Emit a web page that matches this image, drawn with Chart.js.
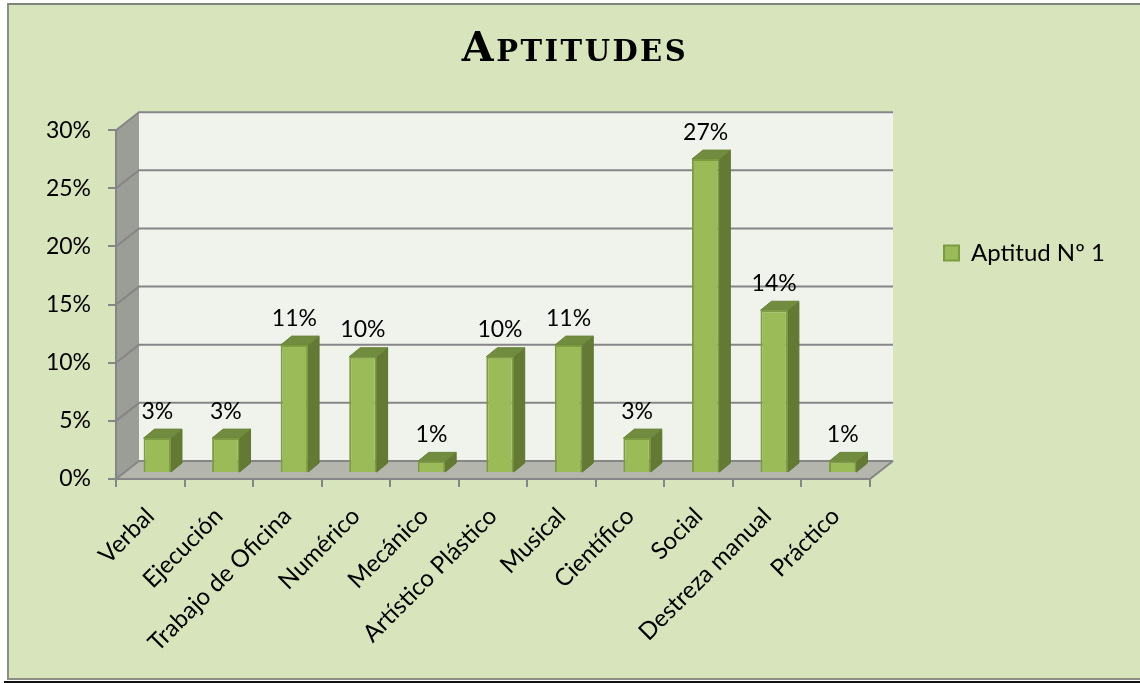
<!DOCTYPE html>
<html>
<head>
<meta charset="utf-8">
<title>Aptitudes</title>
<script src="https://cdn.jsdelivr.net/npm/chart.js@4/dist/chart.umd.min.js"></script>
<style>
  html, body { margin: 0; padding: 0; background: #fff; overflow: hidden; }
  #frame { position: absolute; left: 7px; top: 3px; width: 1133px; height: 677px; box-sizing: border-box;
           background: #d8e4bc; border-left: 2px solid #8c9084; border-top: 2px solid #7f8378; border-bottom: 2px solid #8c9084; }
  #rule { position: absolute; left: 4px; top: 681px; width: 1136px; height: 2px; background: #111; }
  canvas { position: absolute; left: 0; top: 0; }
</style>
</head>
<body>
<div id="frame"></div>
<div id="rule"></div>
<canvas id="chart" width="1140" height="683"></canvas>
<script>
const categorias = ['Verbal', 'Ejecución', 'Trabajo de Oficina', 'Numérico', 'Mecánico', 'Artístico Plástico', 'Musical', 'Científico', 'Social', 'Destreza manual', 'Práctico'];
const aptitud1 = [3, 3, 11, 10, 1, 10, 11, 3, 27, 14, 1];
const serieNombre = 'Aptitud Nº 1';
const tituloTexto = 'Aptitudes';

const fuente = 'Lato, "Open Sans", sans-serif';

// profundidad de las paredes y de las barras (3D falso)
const paredX = 23, paredY = -18;
const barraX = 7, barraY = -6;
const fondoX = 11, fondoY = -9;

const efecto3d = {
    id: 'efecto3d',
    afterLayout(chart) {
        // leyenda y titulo en su sitio
        const l = chart.legend;
        const w = l.right - l.left, h = l.bottom - l.top;
        l.left = 934; l.right = 934 + w;
        l.top = 253 - h / 2; l.bottom = l.top + h;
        const t = chart.titleBlock;
        const tw = t.right - t.left;
        t.left = 575 - tw / 2; t.right = 575 + tw / 2;
        // el titulo va mas espaciado que el resto del texto
        const dibujaTitulo = t.draw;
        t.draw = function() {
            chart.ctx.letterSpacing = '2.5px';
            dibujaTitulo.apply(t, arguments);
            chart.ctx.letterSpacing = '0px';
        };
    },
    beforeDraw(chart) {
        const ctx = chart.ctx, a = chart.chartArea, y = chart.scales.y;
        ctx.save();
        // pared izquierda
        ctx.fillStyle = '#9b9d97';
        ctx.beginPath();
        ctx.moveTo(a.left, a.bottom); ctx.lineTo(a.left, a.top);
        ctx.lineTo(a.left + paredX, a.top + paredY); ctx.lineTo(a.left + paredX, a.bottom + paredY);
        ctx.closePath(); ctx.fill();
        // pared del fondo
        ctx.fillStyle = '#eff3ec';
        ctx.fillRect(a.left + paredX, a.top + paredY, a.right - a.left, a.bottom - a.top);
        // suelo
        ctx.fillStyle = '#b4b6ae';
        ctx.beginPath();
        ctx.moveTo(a.left, a.bottom); ctx.lineTo(a.right, a.bottom);
        ctx.lineTo(a.right + paredX, a.bottom + paredY); ctx.lineTo(a.left + paredX, a.bottom + paredY);
        ctx.closePath(); ctx.fill();
        // lineas de division
        ctx.strokeStyle = '#868686';
        ctx.lineWidth = 2;
        y.ticks.forEach(function(t) {
            const py = y.getPixelForValue(t.value);
            ctx.beginPath();
            ctx.moveTo(a.left, py);
            ctx.lineTo(a.left + paredX, py + paredY);
            ctx.lineTo(a.right + paredX, py + paredY);
            ctx.stroke();
        });
        ctx.beginPath();
        ctx.moveTo(a.right, a.bottom);
        ctx.lineTo(a.right + paredX, a.bottom + paredY);
        ctx.stroke();
        ctx.restore();
    },
    beforeDatasetsDraw(chart) {
        const ctx = chart.ctx;
        ctx.save();
        ctx.translate(barraX, barraY);
        chart.getDatasetMeta(0).data.forEach(function(el) {
            const izq = el.x - el.width / 2, der = el.x + el.width / 2;
            // cara lateral
            ctx.fillStyle = '#647a34';
            ctx.strokeStyle = '#5f7531';
            ctx.lineWidth = 1;
            ctx.beginPath();
            ctx.moveTo(der, el.y); ctx.lineTo(der + fondoX, el.y + fondoY);
            ctx.lineTo(der + fondoX, el.base + fondoY); ctx.lineTo(der, el.base);
            ctx.closePath(); ctx.fill(); ctx.stroke();
            // cara superior
            ctx.fillStyle = '#718c3f';
            ctx.strokeStyle = '#6b853b';
            ctx.beginPath();
            ctx.moveTo(izq, el.y); ctx.lineTo(izq + fondoX, el.y + fondoY);
            ctx.lineTo(der + fondoX, el.y + fondoY); ctx.lineTo(der, el.y);
            ctx.closePath(); ctx.fill(); ctx.stroke();
        });
    },
    afterDatasetsDraw(chart) {
        const ctx = chart.ctx;
        ctx.restore();
        // etiquetas de datos
        ctx.save();
        ctx.fillStyle = '#000';
        ctx.font = '23px ' + fuente;
        ctx.textAlign = 'center';
        ctx.textBaseline = 'middle';
        chart.getDatasetMeta(0).data.forEach(function(el, i) {
            ctx.fillText(aptitud1[i] + '%', el.x + barraX, el.y + barraY - 27);
        });
        ctx.restore();
    }
};

new Chart(document.getElementById('chart').getContext('2d'), {
    type: 'bar',
    data: {
        labels: categorias,
        datasets: [{
            label: serieNombre,
            data: aptitud1,
            backgroundColor: '#9bbb59',
            borderColor: '#7d9b40',
            borderWidth: 2,
            barPercentage: 0.4,
            categoryPercentage: 1
        }]
    },
    options: {
        responsive: false,
        animation: false,
        layout: { padding: { left: 0, right: 270, top: 26, bottom: 0 } },
        plugins: {
            title: {
                display: true,
                text: tituloTexto,
                color: '#000',
                // el estilo no admite small-caps, pero el peso pasa tal cual a ctx.font
                font: { family: '"DejaVu Serif"', size: 41, weight: 'small-caps bold' },
                padding: { top: 0, bottom: 55 }
            },
            legend: {
                position: 'chartArea',
                labels: { color: '#000', font: { family: fuente, size: 24 }, boxWidth: 15, boxHeight: 15 }
            },
            tooltip: { enabled: false }
        },
        scales: {
            x: {
                afterFit(s) { s.height = 204; },
                grid: { drawOnChartArea: false, color: '#868686', lineWidth: 2, tickLength: 8 },
                border: { color: '#868686', width: 2 },
                ticks: { color: '#000', font: { family: fuente, size: 24 }, autoSkip: false, minRotation: 45, maxRotation: 45, padding: 15 }
            },
            y: {
                min: 0,
                max: 30,
                afterFit(s) { s.width = 116; },
                grid: { drawOnChartArea: false, color: '#868686', lineWidth: 2, tickLength: 8 },
                border: { color: '#868686', width: 2 },
                ticks: { color: '#000', font: { family: fuente, size: 23 }, stepSize: 5, padding: 17,
                    callback: function(v) { return v + '%'; } }
            }
        }
    },
    plugins: [efecto3d]
});
</script>
</body>
</html>
